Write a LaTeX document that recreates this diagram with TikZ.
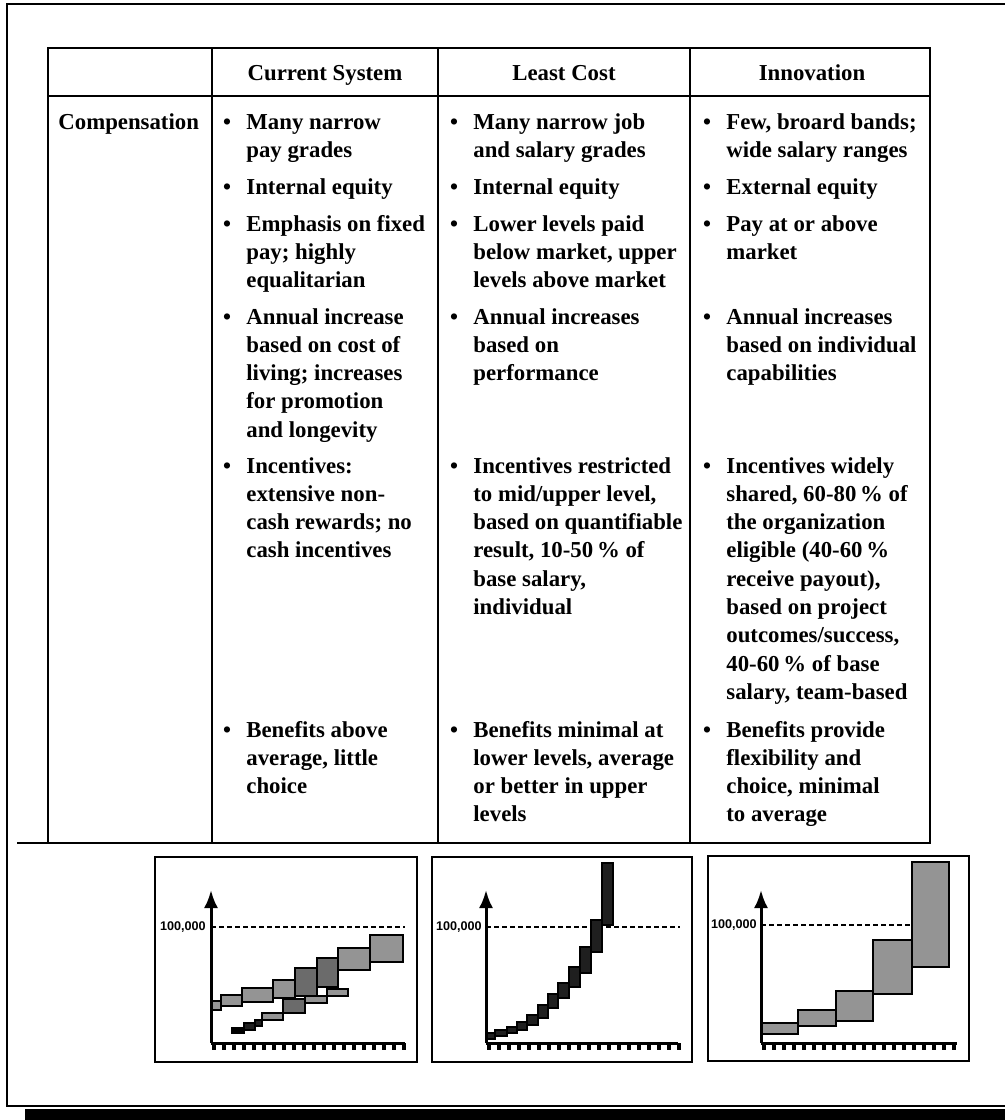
\documentclass[tikz,border=0pt]{standalone}
\usepackage{fontspec}
\setmainfont{Liberation Serif}
\newfontfamily\labelfont{Liberation Sans}
\usetikzlibrary{arrows.meta}

% one bulleted entry: lines are broken by hand with \\
\newcommand\celltext[1]{\parbox[t]{120pt}{\raggedright\fontsize{11.4}{14.15}\selectfont\bfseries #1}}
\newcommand\listentry[4]{%
  \node[dot] (#1b) at (#2-19,#3) {\textbullet};
  \node[itemtext] (#1) at (#2,#3) {\celltext{#4}};}

\begin{document}
\begin{tikzpicture}[x=0.5pt,y=-0.5pt,
  frameline/.style={line width=1.1pt},
  rule/.style={line width=1.3pt},
  head/.style={font=\fontsize{11.4}{14}\selectfont\bfseries, inner sep=0pt, anchor=base},
  itemtext/.style={inner sep=0pt, anchor=base west},
  dot/.style={inner sep=0pt, anchor=base, font=\fontsize{11.4}{14}\selectfont\bfseries},
  chartframe/.style={line width=1.1pt},
  axis/.style={line width=1.5pt},
  tickmark/.style={line width=1.6pt},
  limit/.style={line width=1.2pt, dash pattern=on 2.5pt off 1.5pt},
  band/.style={draw, line width=1.2pt, fill=black!42},
  deepband/.style={draw, line width=1.2pt, fill=black!58},
  darkband/.style={draw, line width=1pt, fill=black!88},
  ylabel/.style={inner sep=0pt, anchor=east, font=\labelfont\fontsize{6.3}{7}\selectfont\bfseries}
]
\useasboundingbox (0,0) rectangle (1005,1120);
\fill[white] (0,0) rectangle (1005,1120);

% page frame and its shadow
\fill[black] (25,1109) rectangle (1005,1120);
\draw[frameline] (1005,4) -- (7,4) -- (7,1106) -- (1005,1106);

% table grid
\draw[rule] (48,48) rectangle (930,843);
\draw[rule] (48,96) -- (930,96);
\draw[rule] (17,843) -- (48,843);
\foreach \x in {212,438,690} \draw[rule] (\x,48) -- (\x,843);

% headers
\node[head] (hcur) at (325,80) {Current System};
\node[head] (hleast) at (564,80) {Least Cost};
\node[head] (hinno) at (812,80) {Innovation};
\node[head, anchor=base west] (comp) at (58,129) {Compensation};

% Current System
\listentry{c1}{246}{129}{Many narrow\\pay grades}
\listentry{c2}{246}{194}{Internal equity}
\listentry{c3}{246}{231}{Emphasis on fixed\\pay; highly\\equalitarian}
\listentry{c4}{246}{324}{Annual increase\\based on cost of\\living; increases\\for promotion\\and longevity}
\listentry{c5}{246}{473}{Incentives:\\extensive non-\\cash rewards; no\\cash incentives}
\listentry{c6}{246}{737}{Benefits above\\average, little\\choice}

% Least Cost
\listentry{l1}{473}{129}{Many narrow job\\and salary grades}
\listentry{l2}{473}{194}{Internal equity}
\listentry{l3}{473}{231}{Lower levels paid\\below market, upper\\levels above market}
\listentry{l4}{473}{324}{Annual increases\\based on\\performance}
\listentry{l5}{473}{473}{Incentives restricted\\to mid/upper level,\\based on quantifiable\\result, 10-50\,\% of\\base salary,\\individual}
\listentry{l6}{473}{737}{Benefits minimal at\\lower levels, average\\or better in upper\\levels}

% Innovation
\listentry{i1}{726}{129}{Few, broard bands;\\wide salary ranges}
\listentry{i2}{726}{194}{External equity}
\listentry{i3}{726}{231}{Pay at or above\\market}
\listentry{i4}{726}{324}{Annual increases\\based on individual\\capabilities}
\listentry{i5}{726}{473}{Incentives widely\\shared, 60-80\,\% of\\the organization\\eligible (40-60\,\%\\receive payout),\\based on project\\outcomes/success,\\40-60\,\% of base\\salary, team-based}
\listentry{i6}{726}{737}{Benefits provide\\flexibility and\\choice, minimal\\to average}

% ---- chart 1: overlapping narrow grades
\draw[chartframe] (155,857) rectangle (417,1062);
\draw[limit] (211,927) -- (405,927);
\node[ylabel] (lab1) at (206,927) {100,000};
\draw[band] (232,1028) rectangle (244,1033);
\fill[black] (232,1028) rectangle (244,1033);
\draw[darkband] (244,1023) rectangle (255,1030);
\draw[darkband] (255,1020) rectangle (262,1026);
\draw[band] (262,1013) rectangle (283,1020);
\draw[deepband] (283,999) rectangle (305,1013);
\draw[band] (305,996) rectangle (327,1003);
\draw[band] (327,989) rectangle (348,996);
\draw[band] (211,1001) rectangle (221,1010);
\draw[band] (221,995) rectangle (242,1006);
\draw[band] (242,988) rectangle (273,1002);
\draw[band] (273,980) rectangle (295,998);
\draw[deepband] (295,968) rectangle (317,996);
\draw[deepband] (317,958) rectangle (338,987);
\draw[band] (338,948) rectangle (370,970);
\draw[band] (370,935) rectangle (403,962);
\draw[axis] (211,1043) -- (405,1043);
\foreach \i in {0,...,19} \draw[tickmark] (214+\i*10,1043) -- ++(0,7);
\draw[axis,-{Latex[length=9pt,width=7pt]}] (211,1043) -- (211,890);

% ---- chart 2: steep staircase
\draw[chartframe] (432,857) rectangle (692,1062);
\draw[limit] (486,927) -- (680,927);
\node[ylabel] (lab2) at (482,927) {100,000};
\foreach \a/\b/\c/\d in {486/1033/495/1039, 495/1030/507/1036, 507/1027/517/1033,
  517/1022/527/1030, 527/1015/538/1025, 538/1005/548/1018, 548/994/558/1008,
  558/983/569/998, 569/967/580/987, 580/947/591/973, 591/920/602/952, 602/863/613/925}
  \draw[darkband] (\a,\b) rectangle (\c,\d);
\draw[axis] (486,1043) -- (678,1043);
\foreach \i in {0,...,19} \draw[tickmark] (489+\i*10,1043) -- ++(0,7);
\draw[axis,-{Latex[length=9pt,width=7pt]}] (486,1043) -- (486,890);

% ---- chart 3: few broad bands
\draw[chartframe] (708,856) rectangle (969,1061);
\draw[limit] (761,925) -- (913,925);
\node[ylabel] (lab3) at (757,925) {100,000};
\foreach \a/\b/\c/\d in {761/1023/798/1034, 798/1010/836/1026, 836/991/873/1021,
  873/940/912/994, 912/862/949/967}
  \draw[band] (\a,\b) rectangle (\c,\d);
\draw[axis] (761,1043) -- (957,1043);
\foreach \i in {0,...,19} \draw[tickmark] (764+\i*10,1043) -- ++(0,7);
\draw[axis,-{Latex[length=9pt,width=7pt]}] (761,1043) -- (761,890);
\end{tikzpicture}
\end{document}
